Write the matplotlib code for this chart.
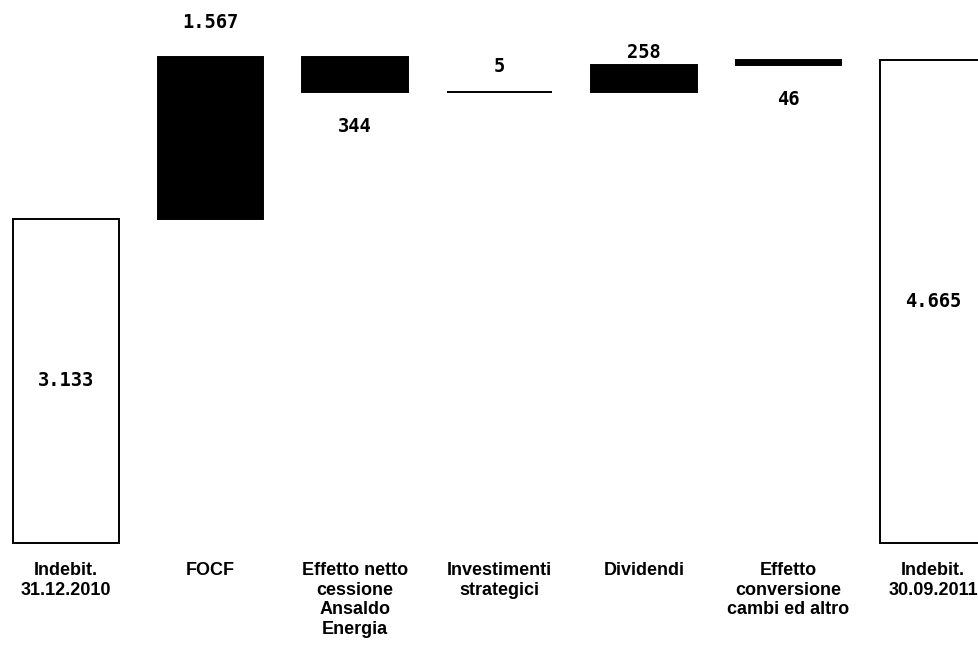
import matplotlib
matplotlib.use('Agg')
import matplotlib.pyplot as plt

# waterfall of net debt (EUR mln)
categories = ['Indebit.\n31.12.2010', 'FOCF', 'Effetto netto\ncessione\nAnsaldo\nEnergia',
              'Investimenti\nstrategici', 'Dividendi', 'Effetto\nconversione\ncambi ed altro',
              'Indebit.\n30.09.2011']
steps = [3133, 1567, -344, 5, 258, 46, 4665]
value_labels = ['3.133', '1.567', '344', '5', '258', '46', '4.665']

fig = plt.figure(figsize=(9.79, 6.46), dpi=100)
ax = fig.add_axes([0, 0, 1, 1])

# running totals for floating bars
bottoms = []
heights = []
running = 0
for i, v in enumerate(steps):
    if i == 0 or i == len(steps) - 1:
        bottoms.append(0)
        heights.append(v)
        running = v
    else:
        if v >= 0:
            bottoms.append(running)
        else:
            bottoms.append(running + v)
        heights.append(abs(v))
        running += v

x = list(range(len(steps)))
width = 0.73
for i in x:
    total_bar = i == 0 or i == len(steps) - 1
    ax.bar(i, heights[i], bottom=bottoms[i], width=width,
           color='white' if total_bar else 'black', edgecolor='black',
           linewidth=1.4)

num_font = dict(family='DejaVu Sans Mono', fontweight='bold', fontsize=13.5)
# gap (data units) between bar end and label centre
gap_above = {1: 330, 3: 240, 4: 120}
for i in x:
    top = bottoms[i] + heights[i]
    if i == 0 or i == len(steps) - 1:
        ax.text(i, heights[i] / 2, value_labels[i], ha='center', va='center', **num_font)
    elif i in (2, 5):
        # label under the bar
        ax.text(i, bottoms[i] - 330, value_labels[i], ha='center', va='center', **num_font)
    else:
        ax.text(i, top + gap_above[i], value_labels[i], ha='center', va='center', **num_font)

for i, c in enumerate(categories):
    ax.text(i, -180, c, ha='center', va='top', fontsize=13, fontweight='bold',
            family=['Liberation Sans', 'DejaVu Sans'], linespacing=1.22)

ax.set_xlim(-0.457, 6.318)
ax.set_ylim(-995, 5246)
ax.axis('off')

fig.savefig('out.png', dpi=100, facecolor='white')
